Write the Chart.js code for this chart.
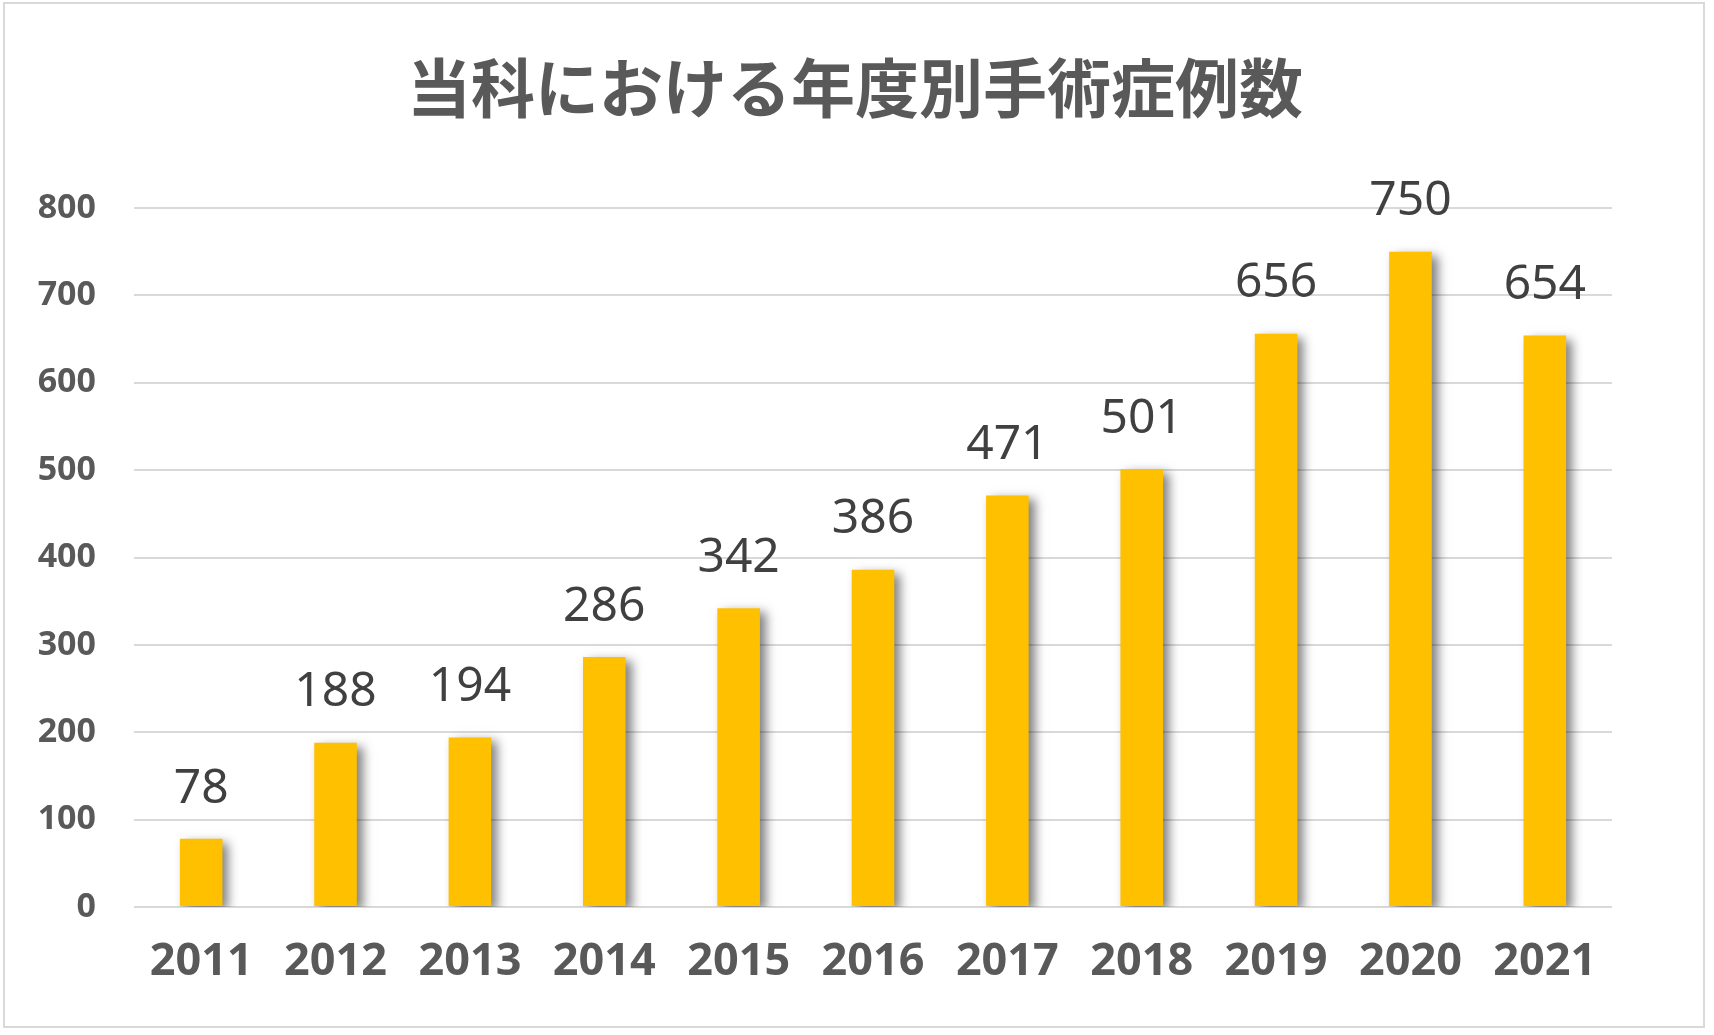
<!DOCTYPE html>
<html>
<head>
<meta charset="utf-8">
<script src="https://cdn.jsdelivr.net/npm/chart.js@4.4.1/dist/chart.umd.min.js"></script>
<style>
  html, body { margin: 0; padding: 0; background: #fff; }
  #wrap { position: relative; width: 1714px; height: 1035px; }
  #frame { position: absolute; left: 3px; top: 2px; width: 1702px; height: 1026px;
           border: 2px solid #d9d9d9; box-sizing: border-box; pointer-events: none; }
</style>
</head>
<body>
<div id="wrap">
  <canvas id="myChart" width="1714" height="1035"></canvas>
  <div id="frame"></div>
</div>
<script>
// data
var years = ['2011', '2012', '2013', '2014', '2015', '2016', '2017', '2018', '2019', '2020', '2021'];
var surgeries = [78, 188, 194, 286, 342, 386, 471, 501, 656, 750, 654];
var yTicks = [0, 100, 200, 300, 400, 500, 600, 700, 800];
var chartTitle = '当科における年度別手術症例数';

var numFont = '"Noto Sans", "DejaVu Sans", sans-serif';

// soft shadow behind the bars, like the Excel original
var barShadow = {
    id: 'barShadow',
    beforeDatasetsDraw: function (chart) {
        var ctx = chart.ctx;
        ctx.save();
        ctx.shadowColor = 'rgba(0,0,0,0.5)';
        ctx.shadowOffsetX = 6;
        ctx.shadowOffsetY = 4;
        ctx.shadowBlur = 10;
    },
    afterDatasetsDraw: function (chart) {
        chart.ctx.restore();
    }
};

// value labels above each bar
var valueLabels = {
    id: 'valueLabels',
    afterDatasetsDraw: function (chart) {
        var ctx = chart.ctx;
        var meta = chart.getDatasetMeta(0);
        ctx.save();
        ctx.font = '48px ' + numFont;
        ctx.fillStyle = '#404040';
        ctx.textAlign = 'center';
        ctx.textBaseline = 'middle';
        meta.data.forEach(function (bar, i) {
            ctx.fillText(String(surgeries[i]), bar.x, bar.y - 50);
        });
        ctx.restore();
    }
};

// title, centred on the whole picture rather than the plot
var chartHeading = {
    id: 'chartHeading',
    afterDraw: function (chart) {
        var ctx = chart.ctx;
        ctx.save();
        ctx.font = 'bold 64px "Noto Sans CJK JP", sans-serif';
        ctx.fillStyle = '#595959';
        ctx.textAlign = 'center';
        ctx.textBaseline = 'middle';
        ctx.fillText(chartTitle, 855, 88);
        ctx.restore();
    }
};

function renderChart() {
    var ctx = document.getElementById('myChart').getContext('2d');
    new Chart(ctx, {
        type: 'bar',
        data: {
            labels: years,
            datasets: [{
                data: surgeries,
                backgroundColor: '#FFC000',
                borderWidth: 0,
                barPercentage: 0.317,
                categoryPercentage: 1
            }]
        },
        options: {
            responsive: false,
            animation: false,
            layout: { padding: { left: 10, right: 102, top: 208, bottom: 10 } },
            plugins: {
                legend: { display: false },
                tooltip: { enabled: false },
                title: { display: false }
            },
            scales: {
                x: {
                    grid: { display: false, drawTicks: false },
                    border: { display: false },
                    ticks: {
                        color: '#595959',
                        padding: 28,
                        font: { family: numFont, size: 45, weight: 'bold', lineHeight: 1.2 }
                    },
                    afterFit: function (scale) { scale.height = 1035 - 907 - 10; }
                },
                y: {
                    min: 0,
                    max: 800,
                    afterBuildTicks: function (scale) {
                        scale.ticks = yTicks.map(function (v) { return { value: v }; });
                    },
                    grid: { color: '#d9d9d9', lineWidth: 2, drawTicks: false },
                    border: { display: false },
                    ticks: {
                        color: '#595959',
                        padding: 38,
                        font: { family: numFont, size: 34, weight: 'bold' }
                    },
                    afterFit: function (scale) { scale.width = 134 - 10; }
                }
            }
        },
        plugins: [barShadow, valueLabels, chartHeading]
    });
}

renderChart();
</script>
</body>
</html>
